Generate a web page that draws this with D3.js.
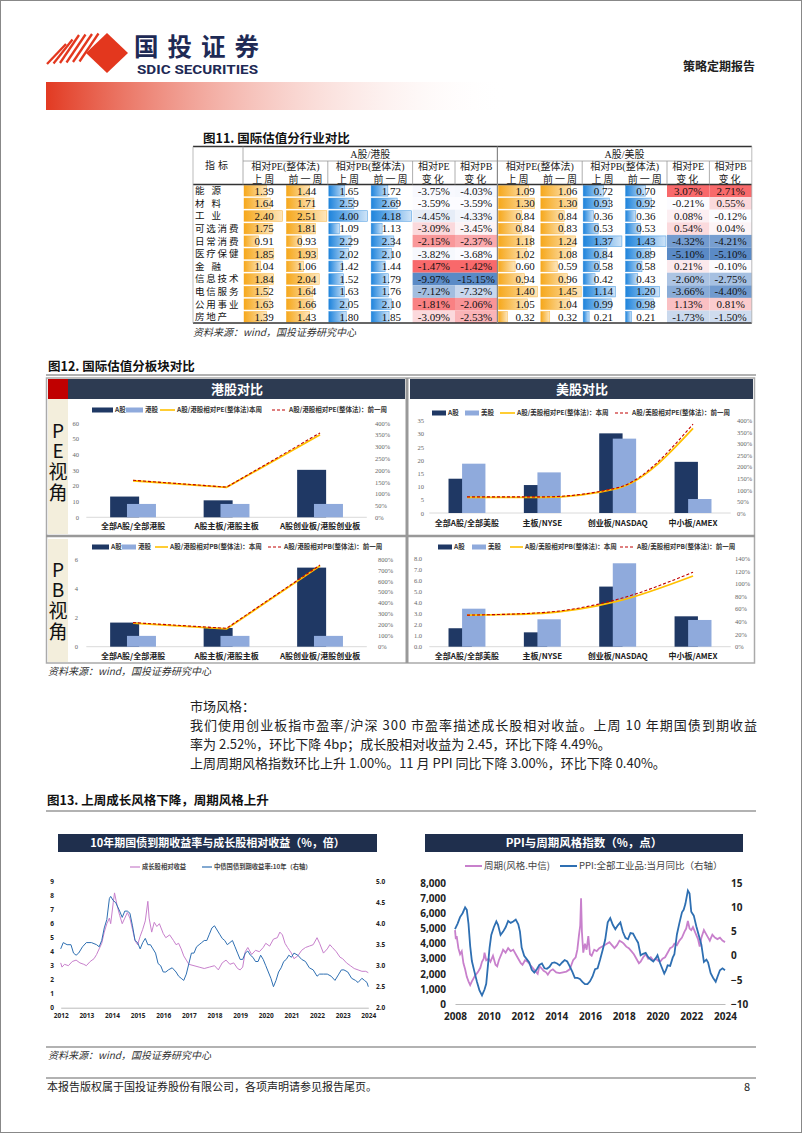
<!DOCTYPE html>
<html><head><meta charset="utf-8">
<script src="https://cdn.jsdelivr.net/npm/d3@7"></script>
<style>body{margin:0;background:#fff} svg{display:block}</style>
</head><body>
<script>
// ---------- 图11 数据 ----------
const industries = ['能源','材料','工业','可选消费','日常消费','医疗保健','金融','信息技术','电信服务','公用事业','房地产'];
const hkPeLast = [1.39,1.64,2.40,1.75,0.91,1.85,1.04,1.84,1.52,1.63,1.39];
const hkPePrev = [1.44,1.71,2.51,1.81,0.93,1.93,1.06,2.04,1.64,1.66,1.43];
const hkPbLast = [1.65,2.59,4.00,1.09,2.29,2.02,1.42,1.52,1.63,2.05,1.80];
const hkPbPrev = [1.72,2.69,4.18,1.13,2.34,2.10,1.44,1.79,1.76,2.10,1.85];
const hkPeChg = [-3.75,-3.59,-4.45,-3.09,-2.15,-3.82,-1.47,-9.97,-7.12,-1.81,-3.09];
const hkPbChg = [-4.03,-3.59,-4.33,-3.45,-2.37,-3.68,-1.42,-15.15,-7.32,-2.06,-2.53];
const usPeLast = [1.09,1.30,0.84,0.84,1.18,1.02,0.60,0.94,1.40,1.05,0.32];
const usPePrev = [1.06,1.30,0.84,0.83,1.24,1.08,0.59,0.96,1.45,1.04,0.32];
const usPbLast = [0.72,0.93,0.36,0.53,1.37,0.84,0.58,0.42,1.14,0.99,0.21];
const usPbPrev = [0.70,0.92,0.36,0.53,1.43,0.89,0.58,0.43,1.20,0.98,0.21];
const usPeChg = [3.07,-0.21,0.08,0.54,-4.32,-5.10,0.21,-2.60,-3.66,1.13,-1.73];
const usPbChg = [2.71,0.55,-0.12,0.04,-4.21,-5.10,-0.10,-2.75,-4.40,0.81,-1.50];

// ---------- 图12 数据 ----------
const hkCats = ['全部A股/全部港股','A股主板/港股主板','A股创业板/港股创业板'];
const usCats = ['全部A股/全部美股','主板/NYSE','创业板/NASDAQ','中小板/AMEX'];
const hkPeA = [13.2,10.8,30.2], hkPeH = [8.5,8.5,8.5];
const hkPeNow = [1.55,1.27,3.50], hkPePrevW = [1.57,1.28,3.58];
const usPeA = [13.0,10.6,30.2,19.4], usPeU = [18.7,15.4,28.2,5.3];
const usPeNow = [0.68,0.68,1.07,3.67], usPePrevW = [0.70,0.70,1.10,3.85];
const hkPbA = [1.65,1.28,5.41], hkPbH = [0.74,0.74,0.74];
const hkPbNow = [2.15,1.62,7.38], hkPbPrevW = [2.20,1.68,7.45];
const usPbA = [1.67,1.30,5.44,2.75], usPbU = [3.44,2.48,7.55,2.42];
const usPbNow = [0.50,0.53,0.72,1.12], usPbPrevW = [0.50,0.54,0.75,1.18];

// ---------- 图13 数据 ----------
const growthT = [2012.0,2012.05,2012.15,2012.3,2012.45,2012.6,2012.75,2012.9,2013.0,2013.15,2013.3,2013.4,2013.5,2013.6,2013.7,2013.8,2013.9,2013.95,2014.05,2014.1,2014.2,2014.3,2014.4,2014.5,2014.6,2014.7,2014.8,2014.9,2015.0,2015.1,2015.2,2015.3,2015.4,2015.45,2015.55,2015.65,2015.75,2015.85,2016.0,2016.1,2016.25,2016.4,2016.5,2016.6,2016.7,2016.8,2016.9,2017.0,2017.2,2017.4,2017.6,2017.8,2018.0,2018.15,2018.3,2018.45,2018.6,2018.75,2018.9,2019.0,2019.1,2019.2,2019.3,2019.45,2019.6,2019.75,2019.9,2020.0,2020.15,2020.3,2020.45,2020.55,2020.65,2020.75,2020.85,2021.0,2021.1,2021.25,2021.4,2021.55,2021.7,2021.85,2022.0,2022.1,2022.25,2022.4,2022.5,2022.6,2022.75,2022.9,2023.0,2023.15,2023.3,2023.45,2023.6,2023.75,2023.9,2024.0];
const growthV = [3.2,2.9,3.1,3.0,3.3,3.4,3.2,3.1,3.0,3.3,3.5,3.8,4.2,4.6,5.4,6.0,6.4,6.0,7.5,8.2,7.3,6.6,6.0,6.4,6.8,6.4,5.6,4.8,4.5,5.1,5.6,6.2,7.6,6.4,5.4,6.1,5.8,6.0,5.3,5.0,5.2,4.8,4.5,4.6,4.2,3.7,3.4,3.1,3.0,2.9,2.8,2.9,3.0,2.7,3.2,3.4,3.1,3.2,2.8,2.7,2.9,4.0,4.3,3.8,4.1,4.0,4.3,4.6,4.4,4.9,5.0,5.4,5.2,4.6,4.3,3.9,3.5,3.7,4.1,4.3,4.4,4.5,5.0,4.6,3.9,4.2,4.5,4.3,4.0,3.6,3.5,3.2,3.0,2.8,2.7,2.6,2.6,2.5];
const bondT = [2012.0,2012.1,2012.25,2012.4,2012.5,2012.6,2012.7,2012.85,2013.0,2013.2,2013.4,2013.5,2013.6,2013.7,2013.8,2013.9,2013.95,2014.05,2014.15,2014.3,2014.4,2014.5,2014.6,2014.7,2014.8,2014.9,2015.0,2015.1,2015.2,2015.3,2015.4,2015.5,2015.6,2015.7,2015.8,2015.9,2016.0,2016.1,2016.2,2016.35,2016.5,2016.6,2016.7,2016.8,2016.9,2017.0,2017.1,2017.2,2017.3,2017.4,2017.5,2017.6,2017.7,2017.8,2017.9,2018.0,2018.1,2018.2,2018.3,2018.4,2018.5,2018.6,2018.7,2018.8,2018.9,2019.0,2019.1,2019.2,2019.3,2019.4,2019.5,2019.6,2019.7,2019.8,2019.9,2020.0,2020.1,2020.2,2020.3,2020.4,2020.5,2020.6,2020.7,2020.8,2020.9,2021.0,2021.1,2021.25,2021.4,2021.55,2021.7,2021.85,2022.0,2022.1,2022.25,2022.4,2022.55,2022.7,2022.85,2022.95,2023.05,2023.2,2023.35,2023.5,2023.6,2023.75,2023.85,2023.95,2024.0];
const bondV = [3.4,3.55,3.5,3.5,3.3,3.25,3.3,3.45,3.55,3.55,3.5,3.45,3.6,3.9,4.1,4.6,4.65,4.55,4.5,4.3,4.15,4.3,4.3,4.25,3.95,3.6,3.55,3.4,3.55,3.65,3.5,3.5,3.4,3.3,3.05,3.0,2.85,2.85,2.9,2.95,2.85,2.75,2.7,2.65,2.8,3.05,3.3,3.3,3.45,3.5,3.55,3.6,3.6,3.75,3.9,3.95,3.85,3.75,3.65,3.6,3.5,3.55,3.6,3.45,3.3,3.15,3.15,3.3,3.35,3.25,3.2,3.1,3.1,3.25,3.15,3.0,2.85,2.7,2.5,2.65,2.85,2.95,3.1,3.15,3.25,3.2,3.3,3.25,3.15,3.1,2.95,2.9,2.75,2.8,2.8,2.8,2.75,2.65,2.8,2.9,2.9,2.85,2.7,2.65,2.6,2.7,2.65,2.6,2.5];
const cycT = [2008.0,2008.05,2008.1,2008.2,2008.3,2008.4,2008.5,2008.6,2008.7,2008.8,2008.9,2009.0,2009.1,2009.2,2009.35,2009.5,2009.6,2009.7,2009.75,2009.85,2010.0,2010.1,2010.25,2010.4,2010.5,2010.6,2010.75,2010.85,2011.0,2011.15,2011.3,2011.45,2011.6,2011.75,2011.9,2012.0,2012.15,2012.3,2012.45,2012.6,2012.75,2012.9,2013.0,2013.1,2013.25,2013.4,2013.5,2013.65,2013.8,2014.0,2014.2,2014.4,2014.6,2014.8,2014.9,2015.0,2015.15,2015.25,2015.35,2015.42,2015.47,2015.52,2015.6,2015.7,2015.8,2015.9,2016.0,2016.1,2016.25,2016.4,2016.55,2016.7,2016.85,2017.0,2017.15,2017.3,2017.45,2017.6,2017.75,2017.9,2018.0,2018.15,2018.3,2018.45,2018.6,2018.75,2018.9,2019.0,2019.15,2019.3,2019.45,2019.6,2019.75,2019.9,2020.0,2020.15,2020.3,2020.45,2020.6,2020.75,2020.9,2021.0,2021.15,2021.3,2021.45,2021.6,2021.7,2021.8,2021.9,2022.0,2022.1,2022.25,2022.4,2022.5,2022.6,2022.75,2022.85,2023.0,2023.1,2023.25,2023.4,2023.55,2023.7,2023.85,2024.0];
const cycV = [4900,4300,4500,3700,3300,3500,2700,2300,1800,1500,1250,1500,1700,1900,2100,2400,2800,3000,3400,2900,3000,2800,3200,2600,2500,2900,3300,3600,3400,3700,3500,3600,3300,3000,2700,2600,2900,2800,2600,2400,2200,2000,2500,2400,2200,2100,1950,2200,2300,2100,2050,2100,2150,2300,2600,2900,3100,3600,4600,5200,7000,4800,3400,4000,3600,4500,3300,3200,3600,3500,3700,3800,3900,4000,4100,3900,3700,3900,4200,4100,4000,3800,3700,3500,3300,3000,2700,2800,3100,3300,3000,3100,2900,3000,2900,2800,3000,3100,3400,3700,3800,4000,3900,4200,4400,4800,5000,5500,5000,4900,5100,4700,4300,3800,4400,4900,4700,4400,4200,4600,4400,4300,4400,4200,4100];
const ppiT = [2008.0,2008.15,2008.3,2008.45,2008.6,2008.7,2008.8,2008.9,2009.0,2009.15,2009.3,2009.45,2009.6,2009.75,2009.85,2009.95,2010.05,2010.15,2010.3,2010.45,2010.55,2010.7,2010.85,2011.0,2011.15,2011.3,2011.45,2011.6,2011.75,2011.85,2011.95,2012.1,2012.25,2012.4,2012.55,2012.7,2012.85,2013.0,2013.15,2013.3,2013.45,2013.6,2013.75,2013.9,2014.05,2014.2,2014.35,2014.5,2014.65,2014.8,2014.95,2015.1,2015.25,2015.4,2015.55,2015.7,2015.85,2016.0,2016.15,2016.3,2016.45,2016.6,2016.75,2016.9,2017.05,2017.2,2017.35,2017.5,2017.65,2017.8,2017.95,2018.1,2018.25,2018.4,2018.55,2018.7,2018.85,2019.0,2019.15,2019.3,2019.45,2019.6,2019.75,2019.9,2020.0,2020.15,2020.4,2020.5,2020.6,2020.75,2020.9,2021.0,2021.15,2021.3,2021.45,2021.55,2021.65,2021.8,2021.9,2022.0,2022.15,2022.3,2022.45,2022.6,2022.75,2022.9,2023.0,2023.15,2023.3,2023.45,2023.55,2023.7,2023.85,2024.0];
const ppiV = [5.5,6.6,8.0,8.8,10.0,9.5,6.6,2.0,-1.1,-3.3,-5.4,-7.2,-8.2,-7.0,-5.8,-2.1,1.7,4.3,5.9,7.1,6.4,4.3,5.0,5.9,7.2,6.8,7.1,7.5,6.5,5.0,1.7,0.0,-0.7,-1.4,-2.9,-3.5,-2.8,-1.9,-1.6,-2.6,-2.7,-2.3,-1.5,-1.4,-1.6,-2.0,-1.4,-0.9,-1.2,-2.2,-3.3,-4.6,-4.6,-4.8,-5.4,-5.9,-5.9,-5.3,-4.3,-2.8,-2.6,-0.8,1.2,3.3,6.9,7.8,6.4,5.5,6.3,6.9,4.9,3.7,3.4,4.7,4.6,3.6,2.7,0.1,0.4,0.6,-0.3,-0.8,-1.2,-0.5,0.1,-1.5,-3.7,-3.0,-2.0,-2.1,-0.4,0.3,4.4,6.8,9.0,9.5,10.7,13.5,12.9,9.1,8.3,6.1,4.2,2.3,-1.3,-0.8,-1.4,-3.6,-4.6,-5.4,-4.4,-3.0,-2.6,-3.0];

const W = 802, H = 1133;
const CJK = '"Noto Sans CJK SC", sans-serif';
const SERIF = '"Liberation Serif", "Noto Sans CJK SC", serif';
const navy = '#1f3864', lightBlue = '#8faadc', gold = '#ffc000', darkRed = '#c00000';

const svg = d3.select('body').append('svg')
    .attr('width', W).attr('height', H)
    .attr('font-family', CJK);

const defs = svg.append('defs');
function grad(id, c0, c1, o1) {
    const g = defs.append('linearGradient').attr('id', id);
    g.append('stop').attr('offset', '0%').attr('stop-color', c0);
    g.append('stop').attr('offset', '100%').attr('stop-color', c1).attr('stop-opacity', o1);
}
grad('redBar', '#e23a22', '#ffffff', 0);
grad('orangeBar', '#f6a81c', '#fde6bd', 1);
grad('blueBar', '#1f84dc', '#cfe4f8', 1);

// page frame
svg.append('rect').attr('x', 0.5).attr('y', 0.5).attr('width', W - 1).attr('height', H - 1)
    .attr('fill', 'none').attr('stroke', '#888');

// ---------- header ----------
const logo = svg.append('g');
logo.append('polygon').attr('points', '107,33 128,53 107,73 86,53').attr('fill', '#e3371e');
[0, 1, 2, 3, 4, 5].forEach(i => {
    logo.append('line')
        .attr('x1', 47 + i * 6.5).attr('y1', 64 - i * 0.5)
        .attr('x2', 66 + i * 6.5).attr('y2', 36 - i * 0.5 + (i < 2 ? 8 - i * 4 : 0))
        .attr('stroke', '#e3371e').attr('stroke-width', 2.3);
});
svg.append('text').attr('x', 134).attr('y', 55.5).attr('font-size', 24.5).attr('font-weight', 'bold')
    .attr('fill', '#1e2a55').attr('textLength', 125).text('国投证券');
svg.append('text').attr('x', 137).attr('y', 74).attr('font-size', 12).attr('font-weight', 'bold')
    .attr('font-family', '"Roboto", sans-serif')
    .attr('fill', '#1e2a55').attr('textLength', 121).attr('lengthAdjust', 'spacingAndGlyphs').text('SDIC SECURITIES');
svg.append('text').attr('x', 755).attr('y', 71).attr('text-anchor', 'end').attr('font-size', 12)
    .attr('font-weight', 'bold').attr('fill', '#222').text('策略定期报告');
svg.append('rect').attr('x', 46).attr('y', 82).attr('width', 460).attr('height', 28).attr('fill', 'url(#redBar)');

// ---------- 图11 table ----------
svg.append('text').attr('x', 203).attr('y', 143).attr('font-size', 12.5).attr('font-weight', 'bold')
    .attr('fill', '#111').text('图11. 国际估值分行业对比');

const tblX = 193, lblW = 50, colW = 42.4, tblTop = 146.5, hdrBot = 184.5, rowH = 12.6;
const colX = i => tblX + lblW + i * colW;
const rowY = d3.scaleBand().domain(industries).range([hdrBot, hdrBot + rowH * industries.length]);
const tblBot = hdrBot + rowH * industries.length;
const tbl = svg.append('g').attr('font-family', SERIF).attr('fill', '#111');

function barCol(ci, vals, max, gradId, stroke, align) {
    const sx = d3.scaleLinear().domain([0, max]).range([0, colW - 2]);
    tbl.selectAll(null).data(vals).join('rect')
        .attr('x', colX(ci) + 1).attr('y', (d, i) => rowY(industries[i]) + 1)
        .attr('width', d => sx(d)).attr('height', rowH - 2)
        .attr('fill', `url(#${gradId})`).attr('stroke', stroke).attr('stroke-width', 0.6).attr('stroke-opacity', 0.7);
    tbl.selectAll(null).data(vals).join('text')
        .attr('x', align === 'end' ? colX(ci + 1) - 5 : colX(ci) + colW / 2)
        .attr('y', (d, i) => rowY(industries[i]) + rowH / 2 + 3.8)
        .attr('text-anchor', align).attr('font-size', 11).text(d => d.toFixed(2));
}
function chgCol(ci, vals) {
    const srt = vals.slice().sort(d3.ascending);
    const color = d3.scaleLinear().domain([srt[0], d3.median(srt), srt[srt.length - 1]])
        .range(['#5a8ac6', '#fcfcff', '#f8696b']);
    tbl.selectAll(null).data(vals).join('rect')
        .attr('x', colX(ci)).attr('y', (d, i) => rowY(industries[i]))
        .attr('width', colW).attr('height', rowH).attr('fill', d => color(d));
    tbl.selectAll(null).data(vals).join('text')
        .attr('x', colX(ci) + colW / 2).attr('y', (d, i) => rowY(industries[i]) + rowH / 2 + 3.8)
        .attr('text-anchor', 'middle').attr('font-size', 11).text(d => d.toFixed(2) + '%');
}
const hkPeMax = d3.max(hkPeLast.concat(hkPePrev)), hkPbMax = d3.max(hkPbLast.concat(hkPbPrev));
const usPeMax = d3.max(usPeLast.concat(usPePrev)), usPbMax = d3.max(usPbLast.concat(usPbPrev));
barCol(0, hkPeLast, hkPeMax, 'orangeBar', '#f6a81c', 'middle');
barCol(1, hkPePrev, hkPeMax, 'orangeBar', '#f6a81c', 'middle');
barCol(2, hkPbLast, hkPbMax, 'blueBar', '#1f84dc', 'middle');
barCol(3, hkPbPrev, hkPbMax, 'blueBar', '#1f84dc', 'middle');
chgCol(4, hkPeChg);
chgCol(5, hkPbChg);
barCol(6, usPeLast, usPeMax, 'orangeBar', '#f6a81c', 'end');
barCol(7, usPePrev, usPeMax, 'orangeBar', '#f6a81c', 'end');
barCol(8, usPbLast, usPbMax, 'blueBar', '#1f84dc', 'middle');
barCol(9, usPbPrev, usPbMax, 'blueBar', '#1f84dc', 'middle');
chgCol(10, usPeChg);
chgCol(11, usPbChg);

// row labels: 2-char names spread to the width of 3 chars, others packed
tbl.selectAll(null).data(industries).join('text')
    .attr('x', tblX + 2).attr('y', d => rowY(d) + rowH / 2 + 3.4)
    .attr('font-size', 9.5).attr('font-family', CJK)
    .attr('letter-spacing', d => d.length === 2 ? 7 : 1.8).text(d => d);

// header texts
const hdr = tbl.append('g').attr('font-size', 10).attr('text-anchor', 'middle').attr('fill', '#222');
hdr.append('text').attr('x', tblX + lblW / 2).attr('y', 169).attr('font-family', CJK).attr('letter-spacing', 3).text('指标');
[['A股/港股', 0], ['A股/美股', 6]].forEach(([t, c]) => {
    hdr.append('text').attr('x', colX(c) + colW * 3).attr('y', 158).text(t);
    hdr.append('text').attr('x', colX(c) + colW).attr('y', 170).text('相对PE(整体法)');
    hdr.append('text').attr('x', colX(c + 2) + colW).attr('y', 170).text('相对PB(整体法)');
    hdr.append('text').attr('x', colX(c + 4) + colW / 2).attr('y', 170).text('相对PE');
    hdr.append('text').attr('x', colX(c + 5) + colW / 2).attr('y', 170).text('相对PB');
    ['上周', '前一周', '上周', '前一周', '变化', '变化'].forEach((s, k) => {
        hdr.append('text').attr('x', colX(c + k) + colW / 2).attr('y', 182.5).attr('letter-spacing', 2).text(s);
    });
});
// table rules
const rule = (x1, y1, x2, y2, c, w) => tbl.append('line').attr('x1', x1).attr('y1', y1).attr('x2', x2).attr('y2', y2)
    .attr('stroke', c).attr('stroke-width', w);
rule(tblX, tblTop, colX(12), tblTop, '#333', 1.5);
rule(tblX, hdrBot, colX(12), hdrBot, '#333', 1.5);
rule(tblX, tblBot, colX(12), tblBot, '#333', 1.5);
rule(colX(0), 161, colX(12), 161, '#999', 0.8);
rule(tblX, tblTop, tblX, tblBot, '#aaa', 0.8);
rule(colX(12), tblTop, colX(12), tblBot, '#aaa', 0.8);
rule(colX(0), tblTop, colX(0), hdrBot, '#999', 0.8);
rule(colX(6), tblTop, colX(6), tblBot, '#888', 1.2);
[2, 4, 5, 8, 10, 11].forEach(c => rule(colX(c), 161, colX(c), hdrBot, '#999', 0.8));

svg.append('text').attr('x', 193).attr('y', 336).attr('font-size', 10).attr('font-style', 'italic')
    .attr('fill', '#333').text('资料来源：wind，国投证券研究中心');

// ---------- 图12 ----------
svg.append('text').attr('x', 48).attr('y', 371).attr('font-size', 12.5).attr('font-weight', 'bold')
    .attr('fill', '#111').text('图12. 国际估值分板块对比');
svg.append('line').attr('x1', 46).attr('x2', 756).attr('y1', 375).attr('y2', 375).attr('stroke', '#999').attr('stroke-width', 1.5);

const frame = svg.append('g');
frame.append('rect').attr('x', 48).attr('y', 399).attr('width', 20).attr('height', 135).attr('fill', '#f3eedc');
frame.append('rect').attr('x', 48).attr('y', 539).attr('width', 20).attr('height', 123).attr('fill', '#f3eedc');
frame.append('rect').attr('x', 48).attr('y', 379).attr('width', 20).attr('height', 20).attr('fill', '#c00000');
frame.append('rect').attr('x', 68).attr('y', 379).attr('width', 337).attr('height', 20).attr('fill', '#2d3b52');
frame.append('rect').attr('x', 410).attr('y', 379).attr('width', 343).attr('height', 20).attr('fill', '#2d3b52');
frame.append('text').attr('x', 237).attr('y', 394).attr('text-anchor', 'middle').attr('fill', '#fff')
    .attr('font-size', 13).attr('font-weight', 'bold').text('港股对比');
frame.append('text').attr('x', 582).attr('y', 394).attr('text-anchor', 'middle').attr('fill', '#fff')
    .attr('font-size', 13).attr('font-weight', 'bold').text('美股对比');
frame.append('rect').attr('x', 46.5).attr('y', 378).attr('width', 708).attr('height', 285)
    .attr('fill', 'none').attr('stroke', '#aaa').attr('stroke-width', 1.5);
frame.append('line').attr('x1', 407).attr('x2', 407).attr('y1', 378).attr('y2', 663).attr('stroke', '#999').attr('stroke-width', 3);
frame.append('line').attr('x1', 46).attr('x2', 755).attr('y1', 536).attr('y2', 536).attr('stroke', '#999').attr('stroke-width', 2.5);
// vertical side labels, one text each
[['PE视角', 421], ['PB视角', 560]].forEach(([t, y]) => {
    frame.append('text').attr('x', 58).attr('y', y)
        .attr('font-size', 19).attr('fill', '#111').attr('letter-spacing', 1.7)
        .style('writing-mode', 'vertical-rl').style('text-orientation', 'upright').text(t);
});

function legend(y, items) {
    const g = svg.append('g').attr('font-size', 6.5).attr('font-weight', 'bold').attr('fill', '#333');
    items.forEach(it => {
        if (it.type === 'rect') {
            g.append('rect').attr('x', it.x).attr('y', y - 2.5).attr('width', it.w).attr('height', 5).attr('fill', it.c);
        } else {
            g.append('line').attr('x1', it.x).attr('x2', it.x + it.w).attr('y1', y).attr('y2', y)
                .attr('stroke', it.c).attr('stroke-width', it.dash ? 1.2 : 1.6).attr('stroke-dasharray', it.dash ? '3,2' : null);
        }
        g.append('text').attr('x', it.x + it.w + 2).attr('y', y + 2.4).text(it.t);
    });
}

function combo(o) {
    const g = svg.append('g');
    const x = d3.scaleBand().domain(o.cats).range(o.xr);
    const yL = d3.scaleLinear().domain(o.lDom).range(o.yr);
    const yR = d3.scaleLinear().domain(o.rDom).range(o.yr);
    const step = x.bandwidth(), bw = step * 0.31, off = step * 0.18;
    const x0 = c => x(c) + step / 2 - (bw + off) / 2;
    g.append('line').attr('x1', o.xr[0]).attr('x2', o.xr[1]).attr('y1', o.yr[0]).attr('y2', o.yr[0])
        .attr('stroke', '#d0d0d0').attr('stroke-width', 0.8);
    g.selectAll('.a').data(o.a).join('rect').attr('class', 'a')
        .attr('x', (d, i) => x0(o.cats[i])).attr('width', bw)
        .attr('y', d => yL(d)).attr('height', d => yL(0) - yL(d)).attr('fill', navy);
    g.selectAll('.b').data(o.b).join('rect').attr('class', 'b')
        .attr('x', (d, i) => x0(o.cats[i]) + off).attr('width', bw)
        .attr('y', d => yL(d)).attr('height', d => yL(0) - yL(d)).attr('fill', lightBlue);
    const line = d3.line().x((d, i) => x(o.cats[i]) + step / 2).y(d => yR(d)).curve(o.curve);
    g.append('path').attr('d', line(o.now)).attr('fill', 'none').attr('stroke', gold).attr('stroke-width', 1.8);
    g.append('path').attr('d', line(o.prev)).attr('fill', 'none').attr('stroke', darkRed)
        .attr('stroke-width', 1.1).attr('stroke-dasharray', '3,2');
    const axL = g.append('g').attr('transform', `translate(${o.lx},0)`)
        .call(d3.axisLeft(yL).tickValues(o.lTicks).tickSize(0).tickPadding(2).tickFormat(o.lFmt));
    const axR = g.append('g').attr('transform', `translate(${o.rx},0)`)
        .call(d3.axisRight(yR).tickValues(o.rTicks).tickSize(0).tickPadding(2).tickFormat(d3.format('.0%')));
    [axL, axR].forEach(a => {
        a.select('.domain').remove();
        a.selectAll('text').attr('font-size', 6.5).attr('fill', '#666').attr('font-family', SERIF);
    });
    const axB = g.append('g').attr('transform', `translate(0,${o.yr[0]})`)
        .call(d3.axisBottom(x).tickSize(0).tickPadding(o.catPad));
    axB.select('.domain').remove();
    axB.selectAll('text').attr('font-size', 8).attr('font-weight', 'bold').attr('fill', '#222').attr('font-family', CJK);
}

combo({ cats: hkCats, xr: [86.3, 366.8], yr: [517.3, 423], lDom: [0, 60], rDom: [0, 4],
    lTicks: d3.range(0, 61, 10), rTicks: d3.range(0, 4.01, 0.5), lFmt: d3.format('d'),
    lx: 81, rx: 373, catPad: 6, a: hkPeA, b: hkPeH, now: hkPeNow, prev: hkPePrevW, curve: d3.curveLinear });
combo({ cats: usCats, xr: [429.3, 730.7], yr: [513, 420.7], lDom: [0, 35], rDom: [0, 4],
    lTicks: d3.range(0, 36, 5), rTicks: d3.range(0, 4.01, 0.5), lFmt: d3.format('d'),
    lx: 426, rx: 735, catPad: 7, a: usPeA, b: usPeU, now: usPeNow, prev: usPePrevW, curve: d3.curveMonotoneX });
combo({ cats: hkCats, xr: [86.3, 366.8], yr: [646.7, 559], lDom: [0, 6], rDom: [0, 8],
    lTicks: [0, 2, 4, 6], rTicks: d3.range(0, 8.01, 1), lFmt: d3.format('d'),
    lx: 80, rx: 376, catPad: 7, a: hkPbA, b: hkPbH, now: hkPbNow, prev: hkPbPrevW, curve: d3.curveLinear });
combo({ cats: usCats, xr: [429.3, 730.7], yr: [646.7, 558.3], lDom: [0, 8], rDom: [0, 1.4],
    lTicks: d3.range(0, 8.01, 1), rTicks: d3.range(0, 1.401, 0.2), lFmt: d3.format('.1f'),
    lx: 424, rx: 733, catPad: 7, a: usPbA, b: usPbU, now: usPbNow, prev: usPbPrevW, curve: d3.curveMonotoneX });

legend(410, [{ type: 'rect', x: 92, w: 21, c: navy, t: 'A股' }, { type: 'rect', x: 126, w: 17, c: lightBlue, t: '港股' },
    { type: 'line', x: 160, w: 15, c: gold, t: 'A股/港股相对PE(整体法)本周' },
    { type: 'line', x: 272, w: 15, c: darkRed, dash: true, t: 'A股/港股相对PE(整体法)：前一周' }]);
legend(413, [{ type: 'rect', x: 432, w: 14, c: navy, t: 'A股' }, { type: 'rect', x: 465, w: 14, c: lightBlue, t: '美股' },
    { type: 'line', x: 500, w: 15, c: gold, t: 'A股/美股相对PE(整体法)：本周' },
    { type: 'line', x: 615, w: 15, c: darkRed, dash: true, t: 'A股/美股相对PE(整体法)：前一周' }]);
legend(547, [{ type: 'rect', x: 92, w: 17, c: navy, t: 'A股' }, { type: 'rect', x: 122, w: 14, c: lightBlue, t: '港股' },
    { type: 'line', x: 155, w: 13, c: gold, t: 'A股/港股相对PB(整体法)：本周' },
    { type: 'line', x: 268, w: 14, c: darkRed, dash: true, t: 'A股/港股相对PB(整体法)：前一周' }]);
legend(547, [{ type: 'rect', x: 438, w: 14, c: navy, t: 'A股' }, { type: 'rect', x: 472, w: 14, c: lightBlue, t: '美股' },
    { type: 'line', x: 510, w: 13, c: gold, t: 'A股/美股相对PB(整体法)：本周' },
    { type: 'line', x: 620, w: 15, c: darkRed, dash: true, t: 'A股/美股相对PB(整体法)：前一周' }]);

svg.append('text').attr('x', 48).attr('y', 675).attr('font-size', 10).attr('font-style', 'italic')
    .attr('fill', '#333').text('资料来源：wind，国投证券研究中心');

// ---------- 正文 ----------
const body = svg.append('g').attr('font-size', 13).attr('fill', '#222');
body.append('text').attr('x', 190).attr('y', 711).text('市场风格：');
body.append('text').attr('x', 190).attr('y', 730).attr('textLength', 567).attr('lengthAdjust', 'spacing')
    .text('我们使用创业板指市盈率/沪深 300 市盈率描述成长股相对收益。上周 10 年期国债到期收益');
body.append('text').attr('x', 190).attr('y', 749).text('率为 2.52%，环比下降 4bp；成长股相对收益为 2.45，环比下降 4.49%。');
body.append('text').attr('x', 190).attr('y', 768).text('上周周期风格指数环比上升 1.00%。11 月 PPI 同比下降 3.00%，环比下降 0.40%。');

// ---------- 图13 ----------
svg.append('text').attr('x', 47).attr('y', 805).attr('font-size', 12.5).attr('font-weight', 'bold')
    .attr('fill', '#111').text('图13. 上周成长风格下降，周期风格上升');
svg.append('line').attr('x1', 46).attr('x2', 756).attr('y1', 811).attr('y2', 811).attr('stroke', '#999').attr('stroke-width', 1.5);

function titleBar(x, w, t, fs) {
    svg.append('rect').attr('x', x).attr('y', 834).attr('width', w).attr('height', 18).attr('fill', '#1f2f4d');
    svg.append('text').attr('x', x + w / 2).attr('y', 843 + fs * 0.36).attr('text-anchor', 'middle')
        .attr('fill', '#fff').attr('font-size', fs).attr('font-weight', 'bold').text(t);
}
titleBar(58, 319, '10年期国债到期收益率与成长股相对收益（%，倍）', 11);
titleBar(425, 318, 'PPI与周期风格指数（%，点）', 11.5);

function dual(o) {
    const g = svg.append('g');
    const x = d3.scaleLinear().domain(o.xDom).range(o.xr);
    const yL = d3.scaleLinear().domain(o.lDom).range(o.yr);
    const yR = d3.scaleLinear().domain(o.rDom).range(o.yr);
    const lineL = d3.line().x((d, i) => x(o.lT[i])).y(d => yL(d));
    const lineR = d3.line().x((d, i) => x(o.rT[i])).y(d => yR(d));
    const axB = g.append('g').attr('transform', `translate(0,${o.yr[0]})`)
        .call(d3.axisBottom(x).tickValues(o.xTicks).tickSize(0).tickPadding(o.xPad).tickFormat(d3.format('d')));
    axB.select('.domain').attr('stroke', '#bbb');
    g.append('path').attr('d', lineL(o.lV)).attr('fill', 'none').attr('stroke', '#c880cc').attr('stroke-width', o.sw);
    g.append('path').attr('d', lineR(o.rV)).attr('fill', 'none').attr('stroke', '#2e6fb2').attr('stroke-width', o.sw);
    const axL = g.append('g').attr('transform', `translate(${o.lx},0)`)
        .call(d3.axisLeft(yL).tickValues(o.lTicks).tickSize(0).tickPadding(2).tickFormat(o.lFmt));
    const axR = g.append('g').attr('transform', `translate(${o.rx},0)`)
        .call(d3.axisRight(yR).tickValues(o.rTicks).tickSize(0).tickPadding(2).tickFormat(o.rFmt));
    [axL, axR].forEach(a => a.select('.domain').remove());
    [axL, axR, axB].forEach(a => a.selectAll('text').attr('font-size', o.fs).attr('font-weight', 'bold')
        .attr('fill', '#222').attr('font-family', '"Open Sans", sans-serif'));
}
dual({ xDom: [2012, 2024], xr: [60.7, 368.3], yr: [1007.7, 881.7], lDom: [0, 9], rDom: [2, 5],
    xTicks: d3.range(2012, 2025), lTicks: d3.range(0, 10), rTicks: d3.range(2, 5.01, 0.5),
    lFmt: d3.format('d'), rFmt: d3.format('.1f'), lx: 56, rx: 374, xPad: 6, fs: 6.5, sw: 1,
    lT: growthT, lV: growthV, rT: bondT, rV: bondV });
dual({ xDom: [2008, 2024], xr: [455, 725], yr: [1004, 883.3], lDom: [0, 8000], rDom: [-10, 15],
    xTicks: d3.range(2008, 2025, 2), lTicks: d3.range(0, 8001, 1000), rTicks: d3.range(-10, 16, 5),
    lFmt: d3.format(','), rFmt: d3.format('d'), lx: 448, rx: 729, xPad: 9, fs: 10, sw: 1.8,
    lT: cycT, lV: cycV, rT: ppiT, rV: ppiV });

function legend2(y, fs, items) {
    const g = svg.append('g').attr('font-size', fs).attr('fill', '#444').attr('font-weight', fs < 8 ? 'bold' : 'normal');
    items.forEach(it => {
        g.append('line').attr('x1', it.x).attr('x2', it.x + it.w).attr('y1', y).attr('y2', y)
            .attr('stroke', it.c).attr('stroke-width', fs < 8 ? 1.2 : 2);
        g.append('text').attr('x', it.x + it.w + 2).attr('y', y + fs * 0.36).text(it.t);
    });
}
legend2(867, 6.3, [{ x: 130, w: 10, c: '#c880cc', t: '成长股相对收益' },
    { x: 202, w: 10, c: '#2e6fb2', t: '中债国债到期收益率:10年（右轴）' }]);
legend2(866, 9.5, [{ x: 465, w: 17, c: '#c880cc', t: '周期(风格.中信)' },
    { x: 560, w: 17, c: '#2e6fb2', t: 'PPI:全部工业品:当月同比（右轴）' }]);

svg.append('line').attr('x1', 46).attr('x2', 756).attr('y1', 1047).attr('y2', 1047).attr('stroke', '#999').attr('stroke-width', 1.5);
svg.append('text').attr('x', 48).attr('y', 1059).attr('font-size', 10).attr('font-style', 'italic')
    .attr('fill', '#333').text('资料来源：wind，国投证券研究中心');

// ---------- footer ----------
svg.append('line').attr('x1', 46).attr('x2', 756).attr('y1', 1078).attr('y2', 1078).attr('stroke', '#999').attr('stroke-width', 1.5);
svg.append('text').attr('x', 47).attr('y', 1091).attr('font-size', 11).attr('fill', '#222')
    .text('本报告版权属于国投证券股份有限公司，各项声明请参见报告尾页。');
svg.append('text').attr('x', 744).attr('y', 1091).attr('font-size', 11).attr('fill', '#222').text('8');
</script>
</body></html>
